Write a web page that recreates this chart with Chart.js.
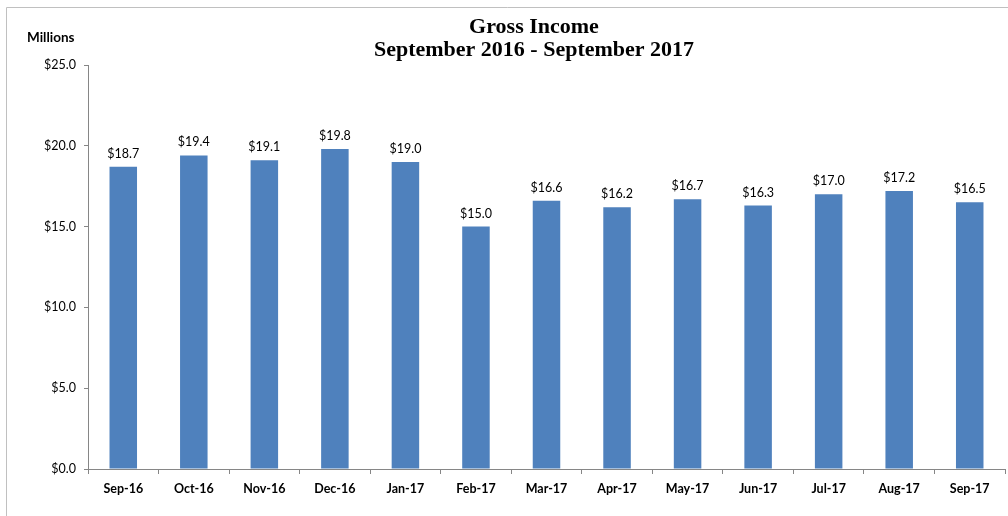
<!DOCTYPE html>
<html>
<head>
<meta charset="utf-8">
<script src="https://cdn.jsdelivr.net/npm/chart.js@4/dist/chart.umd.min.js"></script>
<style>
  html, body { margin: 0; padding: 0; background: #fff; }
  #wrap { position: relative; width: 1008px; height: 516px; }
</style>
</head>
<body>
<div id="wrap"><canvas id="chart-ingresos" width="1008" height="516"></canvas></div>
<script>
// Datos del gráfico
const meses = ['Sep-16', 'Oct-16', 'Nov-16', 'Dec-16', 'Jan-17', 'Feb-17', 'Mar-17', 'Apr-17', 'May-17', 'Jun-17', 'Jul-17', 'Aug-17', 'Sep-17'];
const ingresos = [18.7, 19.4, 19.1, 19.8, 19.0, 15.0, 16.6, 16.2, 16.7, 16.3, 17.0, 17.2, 16.5];
const titulo = ['Gross Income', 'September 2016 - September 2017'];
const unidad = 'Millions';

const fuente = 'Lato, "Liberation Sans", sans-serif';
const gris = '#868686';

// Marco, título, unidad y etiquetas de valores
const textosExtra = {
    id: 'textosExtra',
    beforeDraw(chart) {
        const ctx = chart.ctx;
        ctx.save();
        ctx.strokeStyle = '#c0c0c0';
        ctx.lineWidth = 1;
        ctx.beginPath();
        ctx.moveTo(6.5, 516);
        ctx.lineTo(6.5, 7.5);
        ctx.lineTo(1008, 7.5);
        ctx.stroke();
        ctx.restore();
    },
    afterDatasetsDraw(chart) {
        const ctx = chart.ctx;
        ctx.save();
        ctx.fillStyle = '#000';
        ctx.textAlign = 'center';
        ctx.textBaseline = 'alphabetic';
        ctx.font = 'bold 22px "Liberation Serif", "Times New Roman", serif';
        ctx.fillText(titulo[0], 534, 33);
        ctx.fillText(titulo[1], 534, 56);

        ctx.textAlign = 'left';
        ctx.font = 'bold 13.5px ' + fuente;
        ctx.fillText(unidad, 27, 42);

        // Etiquetas encima de cada barra
        ctx.textAlign = 'center';
        ctx.font = '12.5px ' + fuente;
        const meta = chart.getDatasetMeta(0);
        meta.data.forEach((barra, i) => {
            ctx.fillText('$' + ingresos[i].toFixed(1), barra.x, barra.y - 9);
        });
        ctx.restore();
    }
};

const ctx = document.getElementById('chart-ingresos').getContext('2d');
new Chart(ctx, {
    type: 'bar',
    data: {
        labels: meses,
        datasets: [{
            label: 'Gross Income',
            data: ingresos,
            backgroundColor: '#4F81BD',
            borderWidth: 0,
            barPercentage: 0.39,
            categoryPercentage: 1.0
        }]
    },
    options: {
        responsive: false,
        animation: false,
        layout: { padding: { left: 0, right: 3, top: 65, bottom: 0 } },
        plugins: {
            legend: { display: false },
            title: { display: false },
            tooltip: { enabled: false }
        },
        scales: {
            x: {
                grid: { drawOnChartArea: false, drawTicks: true, tickLength: 5, color: gris, offset: true },
                border: { color: gris },
                ticks: { color: '#000', font: { family: fuente, size: 12.5, weight: 'bold' }, padding: 7, maxRotation: 0, autoSkip: false },
                afterFit(scale) { scale.height = 47; }
            },
            y: {
                min: 0,
                max: 25,
                grid: { drawOnChartArea: false, drawTicks: true, tickLength: 4, color: gris },
                border: { color: gris },
                ticks: {
                    stepSize: 5,
                    color: '#000',
                    padding: 8,
                    font: { family: fuente, size: 12.5 },
                    callback: v => '$' + v.toFixed(1)
                },
                afterFit(scale) { scale.width = 88; }
            }
        }
    },
    plugins: [textosExtra]
});
</script>
</body>
</html>
